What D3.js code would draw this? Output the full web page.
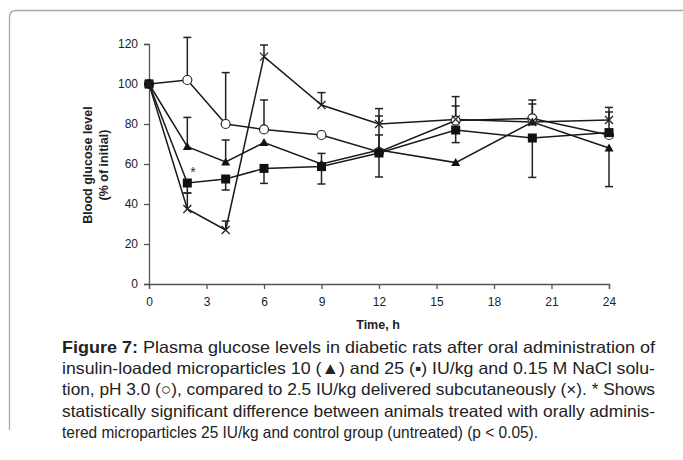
<!DOCTYPE html>
<html>
<head>
<meta charset="utf-8">
<script src="https://cdn.jsdelivr.net/npm/d3@7"></script>
<style>
  body { margin: 0; background: #fff; }
  svg { display: block; font-family: "Liberation Sans", Arial, sans-serif; }
</style>
</head>
<body>
<svg width="683" height="460"></svg>
<script>
// time points (h)
var times = [0, 2, 4, 6, 9, 12, 16, 20, 24];
// blood glucose, % of initial
var triangle = [100, 68.7, 61, 70.7, 60, 67, 60.7, 81, 68];
var square = [100, 50.5, 52.5, 57.8, 58.7, 65.5, 77, 73, 75.7];
var circle = [100, 102, 80, 77.3, 74.5, 66, 81.7, 82.8, 74.5];
var cross = [100, 37.5, 27, 113.7, 89.5, 80, 82.3, 81, 82];
// one-sided error bars (+ up, - down, 0 none)
var triangleErr = [0, 14.6, 11, 0, 5.3, 7.5, 0, 11, -19.3];
var squareErr = [0, -5, -5.5, -7.5, -8.7, -12, -6.3, -19.7, 10.3];
var circleErr = [0, 21.3, 25.7, 14.7, 0, 18, 7.3, 7.2, 0];
var crossErr = [0, 8, 4.5, 5.8, 6.2, 7.7, 11.4, 0, 6.3];
var xTicks = [0, 3, 6, 9, 12, 15, 18, 21, 24];
var yTicks = [0, 20, 40, 60, 80, 100, 120];

var captionLines = [
  'Plasma glucose levels in diabetic rats after oral administration of',
  'insulin-loaded microparticles 10 (\u25B2) and 25 (\u25AA) IU/kg and 0.15 M NaCl solu-',
  'tion, pH 3.0 (\u25CB), compared to 2.5 IU/kg delivered subcutaneously (\u00D7). * Shows',
  'statistically significant difference between animals treated with orally adminis-',
  'tered microparticles 25 IU/kg and control group (untreated) (p < 0.05).'
];

var svg = d3.select('svg');

// frame
svg.append('path')
  .attr('d', 'M9.5,430 V17 Q9.5,10.5 16,10.5 H683')
  .attr('fill', 'none')
  .attr('stroke', '#a8a8a8')
  .attr('stroke-width', 1.3);

var xScale = d3.scaleLinear().domain([0, 24]).range([149, 609]);
var yScale = d3.scaleLinear().domain([0, 120]).range([284, 44]);

var xAxis = svg.append('g')
  .attr('transform', 'translate(0,284)')
  .call(d3.axisBottom(xScale).tickValues(xTicks).tickSize(5).tickPadding(8));
var yAxis = svg.append('g')
  .attr('transform', 'translate(149,0)')
  .call(d3.axisLeft(yScale).tickValues(yTicks).tickSize(5).tickPadding(6));

[xAxis, yAxis].forEach(function(a) {
  a.select('.domain').attr('stroke', '#555').attr('stroke-width', 1.3);
  a.selectAll('.tick line').attr('stroke', '#555').attr('stroke-width', 1.3);
  a.selectAll('.tick text')
    .attr('font-family', '"Liberation Sans", Arial, sans-serif')
    .attr('font-size', 12)
    .attr('fill', '#222');
});

// axis titles
svg.append('text')
  .attr('x', 378).attr('y', 329)
  .attr('text-anchor', 'middle')
  .attr('font-size', 12.5).attr('font-weight', 'bold').attr('fill', '#222')
  .text('Time, h');
svg.append('text')
  .attr('transform', 'translate(92,165) rotate(-90)')
  .attr('text-anchor', 'middle')
  .attr('font-size', 12.5).attr('font-weight', 'bold').attr('fill', '#222')
  .text('Blood glucose level');
svg.append('text')
  .attr('transform', 'translate(108,165) rotate(-90)')
  .attr('text-anchor', 'middle')
  .attr('font-size', 12.5).attr('font-weight', 'bold').attr('fill', '#222')
  .text('(% of initial)');

var series = [
  { name: 'circle', values: circle, err: circleErr },
  { name: 'triangle', values: triangle, err: triangleErr },
  { name: 'square', values: square, err: squareErr },
  { name: 'cross', values: cross, err: crossErr }
];

var plot = svg.append('g');
var line = d3.line()
  .x(function(d) { return xScale(d[0]); })
  .y(function(d) { return yScale(d[1]); });

// error bars
series.forEach(function(s) {
  times.forEach(function(t, i) {
    if (!s.err[i]) return;
    var x = xScale(t);
    var y0 = yScale(s.values[i]);
    var y1 = yScale(s.values[i] + s.err[i]);
    plot.append('line')
      .attr('x1', x).attr('x2', x).attr('y1', y0).attr('y2', y1)
      .attr('stroke', '#222').attr('stroke-width', 1.5);
    plot.append('line')
      .attr('x1', x - 4).attr('x2', x + 4).attr('y1', y1).attr('y2', y1)
      .attr('stroke', '#222').attr('stroke-width', 1.5);
  });
});

// lines
series.forEach(function(s) {
  plot.append('path')
    .datum(times.map(function(t, i) { return [t, s.values[i]]; }))
    .attr('d', line)
    .attr('fill', 'none')
    .attr('stroke', '#1a1a1a')
    .attr('stroke-width', 1.5);
});

// markers
series.forEach(function(s) {
  times.forEach(function(t, i) {
    var x = xScale(t);
    var y = yScale(s.values[i]);
    if (s.name === 'circle') {
      plot.append('circle').attr('cx', x).attr('cy', y).attr('r', 4.5)
        .attr('fill', '#fff').attr('stroke', '#222').attr('stroke-width', 1.2);
    } else if (s.name === 'square') {
      plot.append('rect').attr('x', x - 4.5).attr('y', y - 4.5)
        .attr('width', 9).attr('height', 9).attr('fill', '#111');
    } else if (s.name === 'triangle') {
      plot.append('path')
        .attr('d', 'M' + x + ',' + (y - 4.5) + 'L' + (x + 4.5) + ',' + (y + 3.5) + 'L' + (x - 4.5) + ',' + (y + 3.5) + 'Z')
        .attr('fill', '#111');
    } else {
      plot.append('path')
        .attr('d', 'M' + (x - 4) + ',' + (y - 4) + 'L' + (x + 4) + ',' + (y + 4) +
                   'M' + (x + 4) + ',' + (y - 4) + 'L' + (x - 4) + ',' + (y + 4))
        .attr('stroke', '#222').attr('stroke-width', 1.3);
    }
  });
});

// significance asterisk
svg.append('text')
  .attr('x', xScale(2) + 3).attr('y', yScale(53.5))
  .attr('font-size', 14).attr('fill', '#333')
  .text('*');

// caption
var capX = 62;
var capWidths = [593, 593, 593, 593, 476];
captionLines.forEach(function(txt, i) {
  var t = svg.append('text')
    .attr('x', capX)
    .attr('y', 353 + i * 21.2)
    .attr('font-size', 16.5)
    .attr('fill', '#222')
    .attr('textLength', capWidths[i])
    .attr('lengthAdjust', 'spacingAndGlyphs');
  if (i === 0) {
    t.append('tspan').attr('font-weight', 'bold').text('Figure 7: ');
  }
  t.append('tspan').text(txt);
});
</script>
</body>
</html>
